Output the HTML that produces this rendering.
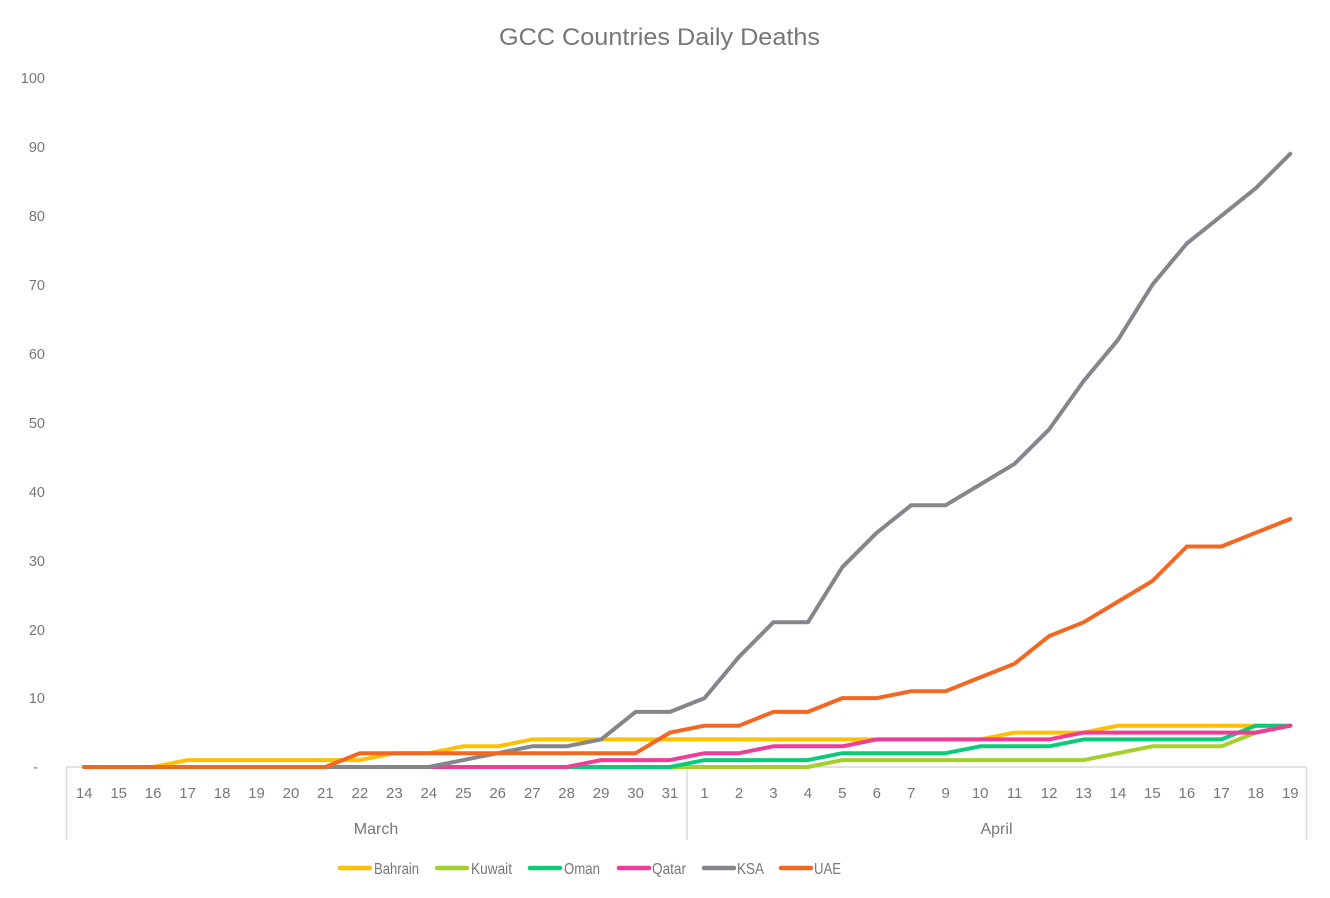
<!DOCTYPE html>
<html>
<head>
<meta charset="utf-8">
<style>
  html, body { margin: 0; padding: 0; background: #ffffff; }
  svg { display: block; }
  text { font-family: "Liberation Sans", "DejaVu Sans", sans-serif; fill: #777777; }
</style>
</head>
<body>
<svg width="1330" height="898" viewBox="0 0 1330 898" xmlns="http://www.w3.org/2000/svg">
  <rect x="0" y="0" width="1330" height="898" fill="#ffffff"/>

  <!-- Title -->
  <text x="499" y="45" font-size="24" textLength="321" lengthAdjust="spacingAndGlyphs" fill="#757575">GCC Countries Daily Deaths</text>

  <!-- Y axis labels -->
  <g font-size="14.5" text-anchor="end">
    <text x="45" y="83">100</text>
    <text x="45" y="152">90</text>
    <text x="45" y="221">80</text>
    <text x="45" y="290">70</text>
    <text x="45" y="359">60</text>
    <text x="45" y="428">50</text>
    <text x="45" y="497">40</text>
    <text x="45" y="566">30</text>
    <text x="45" y="635">20</text>
    <text x="45" y="703">10</text>
    <text x="38" y="772">-</text>
  </g>

  <!-- Axis lines -->
  <g stroke="#d9d9d9" stroke-width="1.5" fill="none">
    <line x1="66" y1="767" x2="1307" y2="767"/>
    <line x1="66.5" y1="767" x2="66.5" y2="840"/>
    <line x1="687" y1="767" x2="687" y2="840"/>
    <line x1="1306.5" y1="767" x2="1306.5" y2="840"/>
  </g>

  <!-- X tick labels -->
  <g font-size="15" text-anchor="middle">
    <text x="84.2" y="798">14</text>
    <text x="118.7" y="798">15</text>
    <text x="153.1" y="798">16</text>
    <text x="187.6" y="798">17</text>
    <text x="222.1" y="798">18</text>
    <text x="256.5" y="798">19</text>
    <text x="291.0" y="798">20</text>
    <text x="325.4" y="798">21</text>
    <text x="359.9" y="798">22</text>
    <text x="394.4" y="798">23</text>
    <text x="428.8" y="798">24</text>
    <text x="463.3" y="798">25</text>
    <text x="497.7" y="798">26</text>
    <text x="532.2" y="798">27</text>
    <text x="566.6" y="798">28</text>
    <text x="601.1" y="798">29</text>
    <text x="635.6" y="798">30</text>
    <text x="670.0" y="798">31</text>
    <text x="704.5" y="798">1</text>
    <text x="739.0" y="798">2</text>
    <text x="773.4" y="798">3</text>
    <text x="807.9" y="798">4</text>
    <text x="842.3" y="798">5</text>
    <text x="876.8" y="798">6</text>
    <text x="911.2" y="798">7</text>
    <text x="945.7" y="798">9</text>
    <text x="980.2" y="798">10</text>
    <text x="1014.6" y="798">11</text>
    <text x="1049.1" y="798">12</text>
    <text x="1083.5" y="798">13</text>
    <text x="1118.0" y="798">14</text>
    <text x="1152.4" y="798">15</text>
    <text x="1186.9" y="798">16</text>
    <text x="1221.4" y="798">17</text>
    <text x="1255.8" y="798">18</text>
    <text x="1290.3" y="798">19</text>
  </g>

  <!-- Month labels -->
  <g font-size="16" text-anchor="middle">
    <text x="376" y="834">March</text>
    <text x="996.5" y="834">April</text>
  </g>

  <!-- Series -->
  <g fill="none" stroke-width="4" stroke-linejoin="round" stroke-linecap="round">
    <!-- Bahrain -->
    <polyline stroke="#FFC000" points="84.2,767 153.1,767 187.6,760.1 359.9,760.1 394.4,753.2 428.8,753.2 463.3,746.3 497.7,746.3 532.2,739.4 980.2,739.4 1014.6,732.6 1083.5,732.6 1118.0,725.7 1290.3,725.7"/>
    <!-- Kuwait -->
    <polyline stroke="#A5D02B" points="84.2,767 807.9,767 842.3,760.1 1083.5,760.1 1118.0,753.2 1152.4,746.3 1221.4,746.3 1255.8,732.6 1290.3,725.7"/>
    <!-- Oman -->
    <polyline stroke="#0ACC78" points="84.2,767 670.0,767 704.5,760.1 807.9,760.1 842.3,753.2 945.7,753.2 980.2,746.3 1049.1,746.3 1083.5,739.4 1221.4,739.4 1255.8,725.7 1290.3,725.7"/>
    <!-- Qatar -->
    <polyline stroke="#F03C96" points="84.2,767 566.6,767 601.1,760.1 670.0,760.1 704.5,753.2 739.0,753.2 773.4,746.3 842.3,746.3 876.8,739.4 1049.1,739.4 1083.5,732.6 1255.8,732.6 1290.3,725.7"/>
    <!-- KSA -->
    <polyline stroke="#86858B" points="84.2,767 428.8,767 463.3,760.1 497.7,753.2 532.2,746.3 566.6,746.3 601.1,739.4 635.6,711.9 670.0,711.9 704.5,698.1 739.0,656.8 773.4,622.3 807.9,622.3 842.3,567.2 876.8,532.7 911.2,505.2 945.7,505.2 980.2,484.5 1014.6,463.8 1049.1,429.4 1083.5,381.2 1118.0,339.8 1152.4,284.7 1186.9,243.4 1221.4,215.8 1255.8,188.2 1290.3,153.8"/>
    <!-- UAE -->
    <polyline stroke="#F26722" points="84.2,767 325.4,767 359.9,753.2 635.6,753.2 670.0,732.6 704.5,725.7 739.0,725.7 773.4,711.9 807.9,711.9 842.3,698.1 876.8,698.1 911.2,691.2 945.7,691.2 980.2,677.4 1014.6,663.7 1049.1,636.1 1083.5,622.3 1118.0,601.6 1152.4,581.0 1186.9,546.5 1221.4,546.5 1255.8,532.7 1290.3,519.0"/>
  </g>

  <!-- Legend -->
  <g stroke-width="4.5" stroke-linecap="round">
    <line x1="340" y1="868" x2="370" y2="868" stroke="#FFC000"/>
    <line x1="437" y1="868" x2="467" y2="868" stroke="#A5D02B"/>
    <line x1="530" y1="868" x2="560" y2="868" stroke="#0ACC78"/>
    <line x1="619" y1="868" x2="649" y2="868" stroke="#F03C96"/>
    <line x1="704" y1="868" x2="734" y2="868" stroke="#86858B"/>
    <line x1="781" y1="868" x2="811" y2="868" stroke="#F26722"/>
  </g>
  <g font-size="16">
    <text x="374" y="874" textLength="45" lengthAdjust="spacingAndGlyphs">Bahrain</text>
    <text x="471" y="874" textLength="41" lengthAdjust="spacingAndGlyphs">Kuwait</text>
    <text x="564" y="874" textLength="36" lengthAdjust="spacingAndGlyphs">Oman</text>
    <text x="652" y="874" textLength="34" lengthAdjust="spacingAndGlyphs">Qatar</text>
    <text x="737" y="874" textLength="27" lengthAdjust="spacingAndGlyphs">KSA</text>
    <text x="814" y="874" textLength="27" lengthAdjust="spacingAndGlyphs">UAE</text>
  </g>
</svg>
</body>
</html>
